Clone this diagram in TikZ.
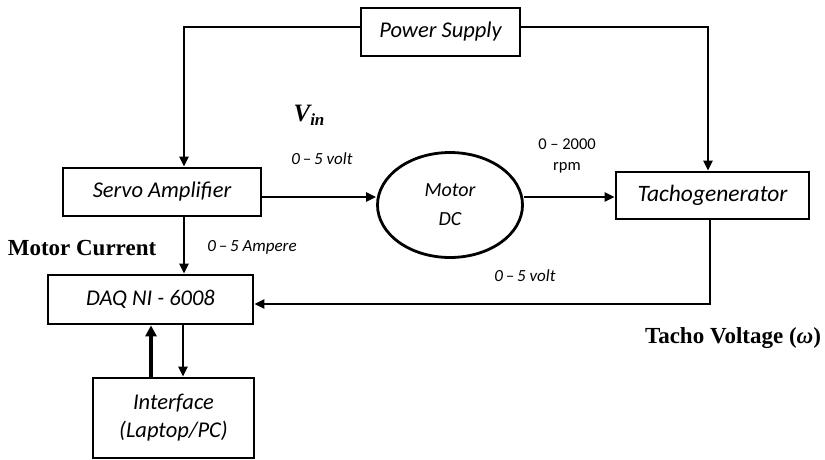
\documentclass[tikz,border=0pt]{standalone}
\usepackage{fontspec}
\setmainfont{Liberation Serif}
\newfontfamily\calfont[Ligatures=TeX]{Carlito}
\usetikzlibrary{arrows.meta,shapes.geometric}
\tikzset{
  box/.style={draw, line width=2.8pt, rectangle, inner sep=0pt, font=\calfont\itshape\fontsize{22.5}{26}\selectfont, align=center},
  arr/.style={line width=2.8pt, -{Triangle[length=10pt,width=9pt]}},
  small/.style={font=\calfont\itshape\fontsize{17}{20}\selectfont, align=center},
  smallup/.style={font=\calfont\fontsize{16.5}{21}\selectfont, align=center},
  serifbold/.style={font=\bfseries\fontsize{23}{26}\selectfont},
}
\begin{document}
\begin{tikzpicture}[x=1pt,y=-1pt]
\useasboundingbox (0,0) rectangle (825,460);
\node[box, minimum width=159pt, minimum height=48pt] (PS) at (440.5,32) {Power Supply};
\node[box, minimum width=198pt, minimum height=48pt] (Servo) at (162,192) {Servo Amplifier};
\node[box, minimum width=193pt, minimum height=47pt] (Tacho) at (712.5,195.5) {\fontsize{23.5}{26}\selectfont Tachogenerator};
\node[box, ellipse, minimum width=145pt, minimum height=105pt, font=\calfont\itshape\fontsize{20}{24}\selectfont] (Motor) at (450,205) {Motor\\[5pt]DC};
\node[box, minimum width=205pt, minimum height=49pt] (DAQ) at (150.5,299.5) {DAQ NI - 6008};
\node[box, minimum width=161pt, minimum height=80pt] (Intf) at (173.5,418) {Interface\\[2pt](Laptop/PC)};

\coordinate (psl) at (184,27);
\coordinate (psr) at (708,27);
\coordinate (sm) at (0,197);
\coordinate (sd) at (184,0);
\coordinate (tv) at (710,304);
\coordinate (up) at (151,0);
\coordinate (dn) at (183,0);

\draw[arr] (PS.west |- psl) -- (psl) -- (psl |- Servo.north);
\draw[arr] (PS.east |- psr) -- (psr) -- (psr |- Tacho.north);
\draw[arr] (Servo.east |- sm) -- (Motor.west |- sm);
\draw[arr] (Motor.east |- sm) -- (Tacho.west |- sm);
\draw[arr] (Servo.south -| sd) -- (DAQ.north -| sd);
\draw[arr] (Tacho.south -| tv) -- (tv) -- (DAQ.east |- tv);
\draw[line width=4pt, -{Triangle[length=11pt,width=11pt]}] (Intf.north -| up) -- (DAQ.south -| up);
\draw[arr] (DAQ.south -| dn) -- (Intf.north -| dn);

\node[font=\bfseries\itshape\fontsize{25}{26}\selectfont] (vin) at (309,115) {V\raisebox{-4pt}{\fontsize{17}{17}\selectfont in}};
\node[small] (v1) at (322,159) {0\,–\,5 volt};
\node[smallup] (rpm) at (567,156) {0 – 2000\\rpm};
\node[serifbold] (mc) at (82,248) {Motor Current};
\node[small] (amp) at (252,247) {0\,–\,5 Ampere};
\node[small] (v2) at (525,276) {0\,–\,5 volt};
\node[serifbold] (tvl) at (733,338) {Tacho Voltage ({\itshape ω})};
\end{tikzpicture}
\end{document}
